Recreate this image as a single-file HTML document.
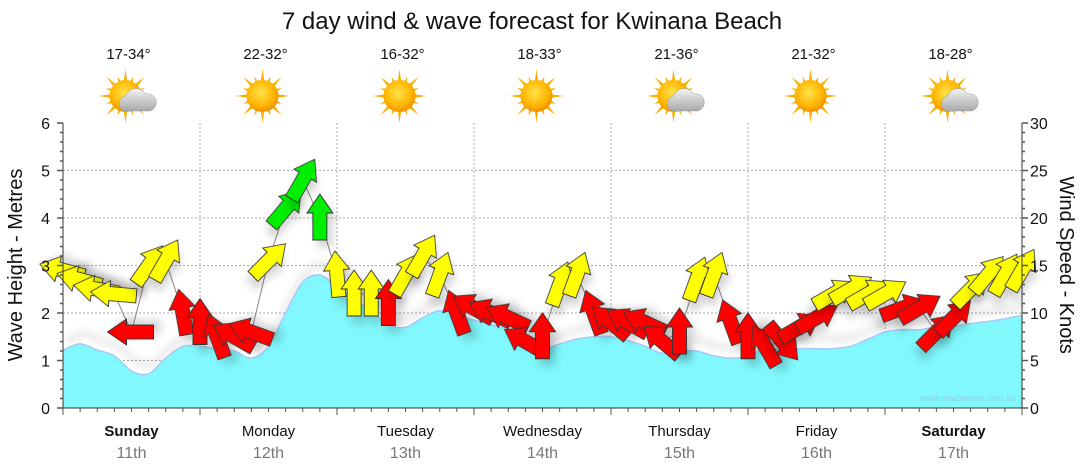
<!DOCTYPE html>
<html><head><meta charset="utf-8"><style>
body{margin:0;background:#fff;}
svg{display:block;font-family:"Liberation Sans",sans-serif;}
</style></head><body>
<svg id="chart" width="1080" height="475" viewBox="0 0 1080 475" xmlns="http://www.w3.org/2000/svg">
<defs>
<filter id="sh" x="-50%" y="-50%" width="200%" height="200%"><feDropShadow dx="5" dy="7" stdDeviation="4" flood-color="#000" flood-opacity="0.16"/></filter>
<filter id="bl" x="-10%" y="-50%" width="120%" height="200%"><feGaussianBlur stdDeviation="3"/></filter>
<radialGradient id="sun" cx="45%" cy="40%" r="60%"><stop offset="0" stop-color="#ffe34a"/><stop offset="0.7" stop-color="#ffb400"/><stop offset="1" stop-color="#f09000"/></radialGradient>
<linearGradient id="cloud" x1="0" y1="0" x2="0" y2="1"><stop offset="0" stop-color="#f4f4f4"/><stop offset="1" stop-color="#a8a8a8"/></linearGradient>
</defs>
<text x="532" y="29" font-size="24" text-anchor="middle" fill="#111">7 day wind &amp; wave forecast for Kwinana Beach</text>
<g id="grid"></g>
<g id="wave"></g>
<g id="wind"></g>
<g id="axes"></g>
<g id="days"></g>
<text transform="translate(22,265) rotate(-90)" font-size="20" text-anchor="middle" fill="#111">Wave Height - Metres</text>
<text transform="translate(1060,265) rotate(90)" font-size="20" text-anchor="middle" fill="#111">Wind Speed - Knots</text>
<text x="1016" y="401" font-size="9" text-anchor="end" fill="#8ccfe8">www.seabreeze.com.au</text>
</svg>
<script>
const dayNames=["Sunday","Monday","Tuesday","Wednesday","Thursday","Friday","Saturday"];
const dayDates=["11th","12th","13th","14th","15th","16th","17th"];
const dayBold=[true,false,false,false,false,false,true];
const temps=["17-34°","22-32°","16-32°","18-33°","21-36°","21-32°","18-28°"];
const icons=["cloudy","sun","sun","sun","cloudy","sun","cloudy"];
const waveTicks=[0,1,2,3,4,5,6];
const windTicks=[0,5,10,15,20,25,30];
// 3-hourly values starting Sunday 00:00
const waveHeight=[1.22,1.35,1.22,1.1,0.78,0.72,1.05,1.3,1.3,1.25,1.2,1.05,1.3,2.0,2.65,2.8,2.55,2.3,2.05,1.75,1.7,1.9,2.05,1.95,1.85,1.75,1.65,1.5,1.25,1.35,1.45,1.5,1.5,1.42,1.3,1.15,1.2,1.2,1.1,1.05,1.1,1.25,1.22,1.25,1.25,1.25,1.3,1.45,1.6,1.65,1.65,1.7,1.72,1.78,1.82,1.88,1.95];
const windSpeed=[14.5,13.5,12.5,12,8,15,15.5,10, 9,7.5,7.5,8,15.5,21,24,20, 14,12,12,11,14,16,14,10, 10.5,10,9.5,7,7.5,13,14,10, 9,9,9,7,8,13.5,14,9, 7.5,6.5,7,8.5,9.5,12,12.5,12, 12,10.5,10.5,8,9.5,12.5,14,14,14.5];
const windDir=[285,285,280,275,270,35,30,350, 0,340,300,290,45,40,30,0, 355,0,0,0,30,30,20,340, 300,295,295,300,0,20,20,340, 310,300,295,310,0,20,20,340, 0,330,140,60,60,60,60,60, 60,70,60,45,45,45,40,30,30];

const svg=document.getElementById('chart');
const NS="http://www.w3.org/2000/svg";
const X0=63,X1=1022,Y0=408,Y1=123;
const xT=i=>X0+(X1-X0)*i/56;
const yW=m=>Y0-(Y0-Y1)*m/6;
const yK=k=>Y0-(Y0-Y1)*k/30;
function mk(tag,attrs,parent,txt){const e=document.createElementNS(NS,tag);for(const k in attrs)e.setAttribute(k,attrs[k]);if(txt!==undefined)e.textContent=txt;parent.appendChild(e);return e;}

// grid
const grid=document.getElementById('grid');
waveTicks.forEach(t=>{if(t>0&&t<6){const l=mk('line',{x1:X0,x2:X1,y1:yW(t),y2:yW(t),stroke:'#aaa','stroke-dasharray':'2,2'},grid);

}});
for(let d=1;d<7;d++){const l=mk('line',{x1:xT(d*8),x2:xT(d*8),y1:Y1,y2:Y0,stroke:'#aaa','stroke-dasharray':'2,2'},grid);

}

// wave
function spline(pts){let d=`M${pts[0][0]},${pts[0][1]}`;for(let i=0;i<pts.length-1;i++){const p0=pts[Math.max(0,i-1)],p1=pts[i],p2=pts[i+1],p3=pts[Math.min(pts.length-1,i+2)];
d+=` C${p1[0]+(p2[0]-p0[0])/6},${p1[1]+(p2[1]-p0[1])/6} ${p2[0]-(p3[0]-p1[0])/6},${p2[1]-(p3[1]-p1[1])/6} ${p2[0]},${p2[1]}`;}return d;}
const wg=document.getElementById('wave');
const pts=waveHeight.map((m,i)=>[xT(i),yW(m)]);
const sp=spline(pts);
const shadow=mk('path',{d:sp,fill:'none',stroke:'#000','stroke-opacity':'0.06','stroke-width':'10',filter:'url(#bl)',transform:'translate(4,-10)'},wg);


const area=mk('path',{d:sp+` L${X1},${Y0} L${X0},${Y0} Z`,fill:'#80f8fc'},wg);


const wl=mk('path',{d:sp,fill:'none',stroke:'#a8c8f8','stroke-width':'1.5'},wg);



// wind
const wd=document.getElementById('wind');
const conn=mk('polyline',{points:windSpeed.map((k,i)=>`${xT(i)},${yK(k)}`).join(' '),fill:'none',stroke:'#888','stroke-width':'1'},wd);


const arrowPts="0,-24 13,-5 7,-5 7,22 -7,22 -7,-5 -13,-5";
windSpeed.forEach((k,i)=>{
  const col=k<11.5?'#ff0000':(k<19?'#ffff00':'#00ee00');
  const a=mk('polygon',{points:arrowPts,fill:col,stroke:'#333','stroke-width':'0.9',filter:'url(#sh)',transform:`translate(${xT(i)},${yK(k)}) rotate(${windDir[i]})`},wd);
  
  
});

// axes
const ax=document.getElementById('axes');
mk('line',{x1:X0,x2:X0,y1:Y1,y2:Y0,stroke:'#333'},ax);
mk('line',{x1:X1,x2:X1,y1:Y1,y2:Y0,stroke:'#333'},ax);
mk('line',{x1:X0,x2:X1,y1:Y0,y2:Y0,stroke:'#333'},ax);
for(let v=0;v<=30;v++){const y=Y0-(Y0-Y1)*v/30;mk('line',{x1:X0-(v%5?3:6),x2:X0,y1:y,y2:y,stroke:'#555','stroke-width':1.5},ax);mk('line',{x1:X1,x2:X1+(v%5?3:6),y1:y,y2:y,stroke:'#555','stroke-width':1.5},ax);}
for(let i=0;i<=56;i++){mk('line',{x1:xT(i),x2:xT(i),y1:Y0,y2:Y0+(i%8?4:7),stroke:'#555'},ax);}
waveTicks.forEach(t=>{const e=mk('text',{x:50,y:yW(t)+6,'font-size':16,'text-anchor':'end',fill:'#111'},ax,t);

});
windTicks.forEach(t=>{const e=mk('text',{x:1030,y:yK(t)+6,'font-size':16,fill:'#111'},ax,t);

});

// days, temps, icons
const dg=document.getElementById('days');
function sunIcon(g,cx,cy){for(let r=0;r<16;r++){const a=r*Math.PI/8,L=r%2?21:27;mk('polygon',{points:`${cx+Math.cos(a)*L},${cy+Math.sin(a)*L} ${cx+Math.cos(a+0.15)*13},${cy+Math.sin(a+0.15)*13} ${cx+Math.cos(a-0.15)*13},${cy+Math.sin(a-0.15)*13}`,fill:'#f8b000'},g);}
mk('circle',{cx:cx,cy:cy,r:16,fill:'url(#sun)'},g);}
dayNames.forEach((n,d)=>{
  const cx=xT(d*8+4);
  const t1=mk('text',{x:cx,y:436,'font-size':15,'text-anchor':'middle',fill:'#111','font-weight':dayBold[d]?'bold':'normal'},dg,n);
  
  
  const t2=mk('text',{x:cx,y:458,'font-size':16,'text-anchor':'middle',fill:'#777'},dg,dayDates[d]);
  
  
  const t3=mk('text',{x:cx-3,y:59,'font-size':15,'text-anchor':'middle',fill:'#111'},dg,temps[d]);
  
  
  const g=mk('g',{},dg);
  
  
  sunIcon(g,cx-6,96);
  if(icons[d]==='cloudy'){
    mk('path',{d:`M${cx-8},${111} a8,8 0 0 1 2,-15 a11,11 0 0 1 20,-2 a8,8 0 0 1 4,17 Z`,fill:'url(#cloud)',stroke:'#999','stroke-width':0.5},g);
  }
});
</script>
</body></html>
